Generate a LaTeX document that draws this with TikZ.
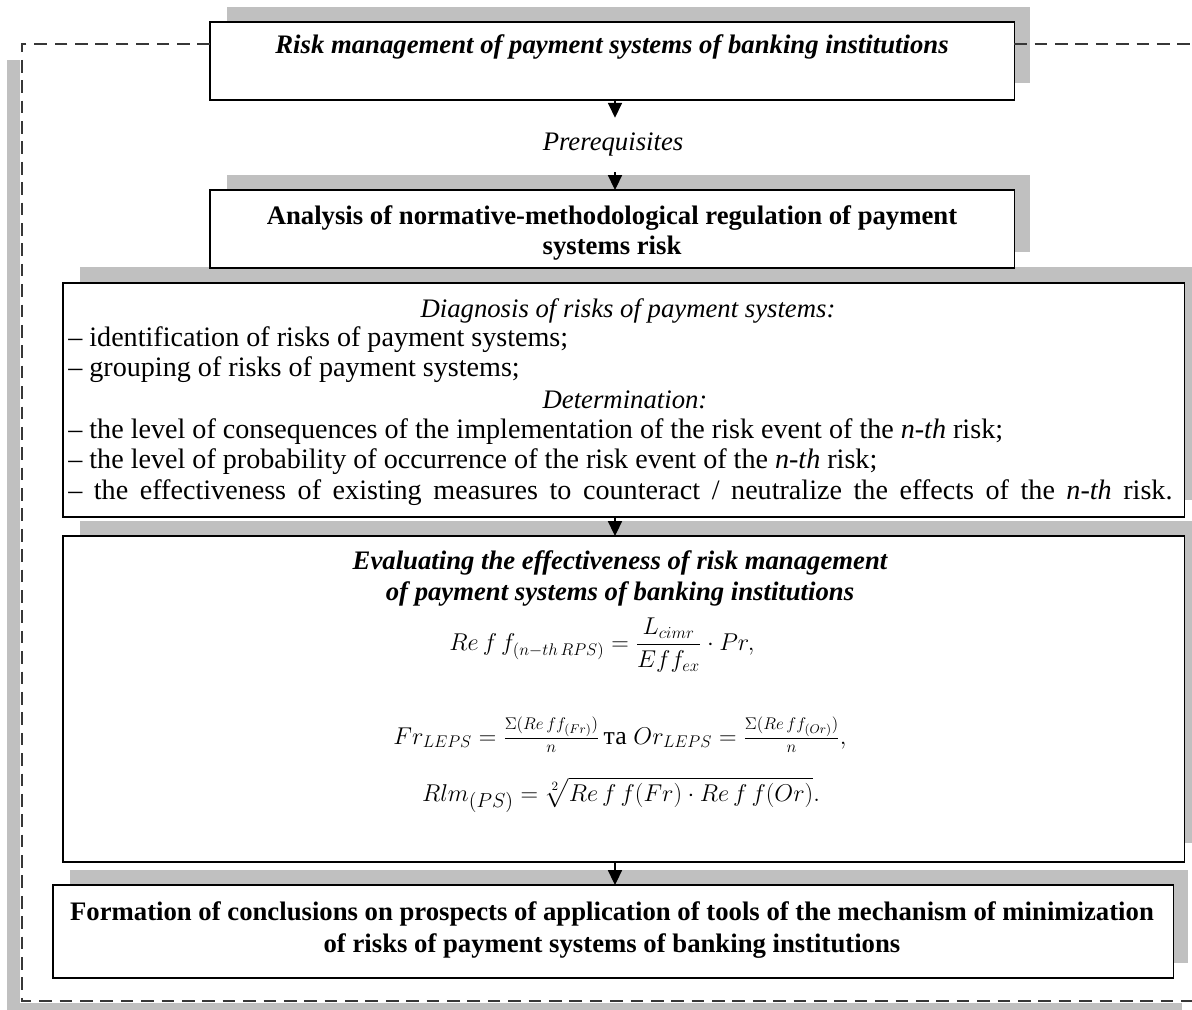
\documentclass[tikz,border=0pt]{standalone}
\usepackage{amsmath}
\usepackage{fontspec}
\setmainfont{Liberation Serif}
\usetikzlibrary{arrows.meta}
\definecolor{shgray}{RGB}{192,192,192}
\definecolor{dashgray}{RGB}{55,55,55}
\newcommand{\fsz}{\fontsize{19}{22}\selectfont}
\newcommand{\rsz}{\fontsize{20}{23}\selectfont}
\begin{document}
\begin{tikzpicture}[x=0.025cm,y=-0.025cm,
  box/.style={draw=black,line width=1pt,fill=white,inner sep=0pt,outer sep=0pt,anchor=north west},
  txt/.style={inner sep=0pt,font=\fsz},
  ltxt/.style={inner sep=0pt,font=\rsz,anchor=base west},
  ctxt/.style={txt,anchor=base},
  mtxt/.style={inner sep=0pt},
  arr/.style={line width=0.8pt,-{Triangle[width=10pt,length=10.5pt]}},
  frame/.style={draw=dashgray,line width=1.1pt,dash pattern=on 9pt off 5.5pt}]
\useasboundingbox (0,0) rectangle (1192,1010);
% outer frame shadow
\fill[shgray] (7,60) rectangle (20,1010);
\fill[shgray] (7,1003) rectangle (1182,1010);
% box shadows
\fill[shgray] (227,7) rectangle (1030,83);
\fill[shgray] (227,175) rectangle (1030,252);
\fill[shgray] (80,267) rectangle (1192,500);
\fill[shgray] (80,521) rectangle (1192,843);
\fill[shgray] (70,870) rectangle (1188,963);
% boxes
\node[box,minimum width=20.1cm,minimum height=1.95cm] (b1) at (210,22) {};
\node[box,minimum width=20.1cm,minimum height=1.95cm] (b2) at (210,190) {};
\node[box,minimum width=28.025cm,minimum height=5.85cm] (b3) at (63,283) {};
\node[box,minimum width=28.025cm,minimum height=8.15cm] (b4) at (63,536) {};
\node[box,minimum width=28cm,minimum height=2.325cm] (b5) at (53,885) {};
% dashed frame
\coordinate (fl) at (22,44);
\coordinate (fr) at (1192,44);
\coordinate (fb) at (1192,1001);
\draw[frame] (b1.west |- fl) -- (fl) -- (fl |- fb) -- (fb);
\draw[frame] (b1.east |- fr) -- (fr);
% texts
\node[ctxt,font=\fsz\bfseries\itshape] (t1) at (612,54) {Risk management of payment systems of banking institutions};
\node[txt,font=\fsz\itshape,minimum height=1.35cm] (pre) at (613,145) {Prerequisites};
\node[ctxt,font=\fsz\bfseries] (t2a) at (612,225) {Analysis of normative-methodological regulation of payment};
\node[ctxt,font=\fsz\bfseries] (t2b) at (612,255) {systems risk};
\node[ctxt,font=\fsz\itshape] (t3a) at (628,318) {Diagnosis of risks of payment systems:};
\node[ltxt] (t3b) at (68,347) {– identification of risks of payment systems;};
\node[ltxt] (t3c) at (68,377) {– grouping of risks of payment systems;};
\node[ctxt,font=\fsz\itshape] (t3d) at (625,409) {Determination:};
\node[ltxt] (t3e) at (68,439) {– the level of consequences of the implementation of the risk event of the \textit{n-th} risk;};
\node[ltxt] (t3f) at (68,469) {– the level of probability of occurrence of the risk event of the \textit{n-th} risk;};
\node[ltxt] (t3g) at (68,500) {\makebox[27.6cm][s]{– the effectiveness of existing measures to counteract / neutralize the effects of the \textit{n-th} risk.}};
\node[ctxt,font=\fsz\bfseries\itshape] (t4a) at (620,570) {Evaluating the effectiveness of risk management};
\node[ctxt,font=\fsz\bfseries\itshape] (t4b) at (620,600) {of payment systems of banking institutions};
\node[mtxt,font=\fontsize{17.5}{21}\selectfont] (f1) at (602,645) {$\displaystyle Re\,f\,f_{(n-th\,RPS)}=\frac{L_{cimr}}{Eff_{ex}}\cdot Pr,$};
\node[mtxt,font=\fontsize{18.3}{22}\selectfont] (f2) at (620,735) {$\displaystyle Fr_{LEPS}=\tfrac{\Sigma(Re\,ff_{(Fr)})}{n}\,\text{та}\;Or_{LEPS}=\tfrac{\Sigma(Re\,ff_{(Or)})}{n},$};
\node[mtxt,font=\fontsize{19}{22}\selectfont] (f3) at (621,795) {$\displaystyle Rlm_{(PS)}=\sqrt[2]{Re\,f\,f(Fr)\cdot Re\,f\,f(Or)}.$};
\node[ctxt,font=\fsz\bfseries] (t5a) at (612,920) {Formation of conclusions on prospects of application of tools of the mechanism of minimization};
\node[ctxt,font=\fsz\bfseries] (t5b) at (612,952) {of risks of payment systems of banking institutions};
% arrows
\coordinate (ax) at (615,0);
\draw[arr] (ax |- b1.south) -- (ax |- pre.north);
\draw[arr] (ax |- pre.south) -- (ax |- b2.north);
\draw[arr] (ax |- b3.south) -- (ax |- b4.north);
\draw[arr] (ax |- b4.south) -- (ax |- b5.north);
\end{tikzpicture}
\end{document}
